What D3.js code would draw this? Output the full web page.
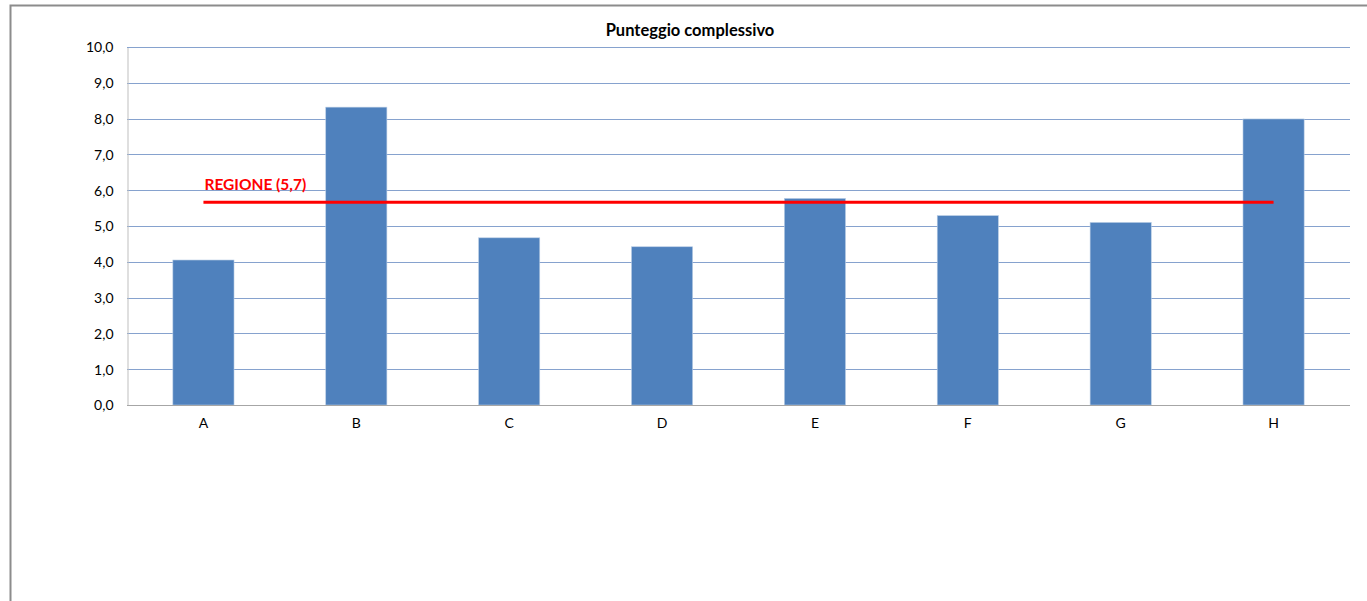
<!DOCTYPE html>
<html lang="it">
<head>
  <meta charset="UTF-8">
  <title>Punteggio complessivo</title>
  <script src="https://d3js.org/d3.v7.min.js"></script>
  <style>
    body { margin: 0; background: #fff; }
    text { font-family: Lato, "Open Sans", sans-serif; }
  </style>
</head>
<body>
  <svg id="chart" width="1367" height="601"></svg>

  <script>
    // Data
    const categories = ["A", "B", "C", "D", "E", "F", "G", "H"];
    const punteggi = [4.05, 8.32, 4.67, 4.42, 5.77, 5.29, 5.10, 7.99];
    const regione = 5.66;
    const yTicks = [0, 1, 2, 3, 4, 5, 6, 7, 8, 9, 10];

    const svg = d3.select("#chart");
    const fmt = v => d3.format(".1f")(v).replace(".", ",");

    // outer chart frame
    svg.append("rect")
      .attr("x", 10.5).attr("y", 5.5)
      .attr("width", 1400).attr("height", 700)
      .attr("fill", "none")
      .attr("stroke", "#8c8c8c")
      .attr("stroke-width", 2);

    const plotLeft = 127, plotRight = 1350, plotTop = 47, plotBottom = 405;

    const x = d3.scaleBand()
      .domain(categories)
      .range([plotLeft, plotRight])
      .paddingInner(0.6)
      .paddingOuter(0.3);

    const y = d3.scaleLinear()
      .domain([0, 10])
      .range([plotBottom, plotTop]);

    // gridlines
    svg.append("g")
      .selectAll("line")
      .data(yTicks.filter(d => d > 0))
      .enter()
      .append("line")
      .attr("x1", plotLeft).attr("x2", plotRight)
      .attr("y1", d => Math.round(y(d)) + 0.5)
      .attr("y2", d => Math.round(y(d)) + 0.5)
      .attr("stroke", "#86a2ce")
      .attr("stroke-width", 1);

    // y axis
    const yAxis = svg.append("g")
      .attr("transform", `translate(${plotLeft + 0.5},0.5)`)
      .call(d3.axisLeft(y).tickValues(yTicks).tickFormat(fmt).tickSize(0).tickPadding(14));
    yAxis.select(".domain").attr("stroke", "#bfbfbf");
    yAxis.selectAll("text").attr("font-size", 14).attr("fill", "#000");

    // bars
    svg.append("g")
      .selectAll("rect")
      .data(punteggi)
      .enter()
      .append("rect")
      .attr("x", (d, i) => x(categories[i]))
      .attr("y", d => y(d))
      .attr("width", x.bandwidth())
      .attr("height", d => plotBottom - y(d))
      .attr("fill", "#4f81bd")
      .attr("stroke", "#b9cde5")
      .attr("stroke-width", 0.6);

    // x axis
    const xAxis = svg.append("g")
      .attr("transform", `translate(0,${plotBottom + 0.5})`)
      .call(d3.axisBottom(x).tickSize(0).tickPadding(13));
    xAxis.select(".domain").attr("stroke", "#a6a6a6").attr("d", `M${plotLeft},0H${plotRight}`);
    xAxis.selectAll("text").attr("font-size", 14).attr("fill", "#000");

    // regional average line
    const xa = x(categories[0]) + x.bandwidth() / 2;
    const xh = x(categories[categories.length - 1]) + x.bandwidth() / 2;
    svg.append("line")
      .attr("x1", xa).attr("x2", xh)
      .attr("y1", y(regione)).attr("y2", y(regione))
      .attr("stroke", "#ff0000")
      .attr("stroke-width", 3);

    svg.append("text")
      .attr("x", xa + 1)
      .attr("y", y(regione) - 12)
      .attr("font-size", 15.5)
      .attr("font-weight", "bold")
      .attr("fill", "#ff0000")
      .text(`REGIONE (${fmt(regione)})`);

    // title
    svg.append("text")
      .attr("x", 690)
      .attr("y", 36)
      .attr("text-anchor", "middle")
      .attr("font-size", 16.5)
      .attr("font-weight", "bold")
      .text("Punteggio complessivo");
  </script>
</body>
</html>
